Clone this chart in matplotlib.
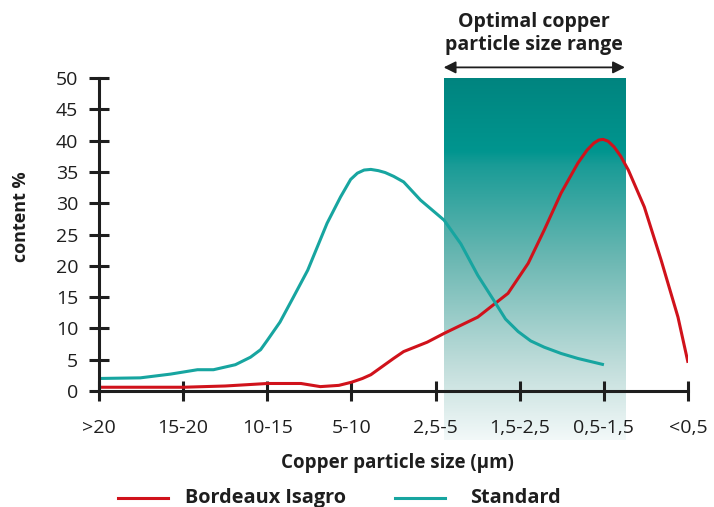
import numpy as np
import matplotlib.pyplot as plt
from matplotlib.colors import LinearSegmentedColormap

# categories on the x axis
categories = ['>20', '15-20', '10-15', '5-10', '2,5-5', '1,5-2,5', '0,5-1,5', '<0,5']
y_ticks = [0, 5, 10, 15, 20, 25, 30, 35, 40, 45, 50]

# Standard curve (x in category units, y in %)
std_x = [0.0, 0.49, 0.85, 1.17, 1.36, 1.62, 1.80, 1.92, 2.0, 2.15, 2.31, 2.48, 2.71,
         2.87, 2.99, 3.07, 3.15, 3.23, 3.32, 3.40, 3.50, 3.62, 3.82, 4.10, 4.30,
         4.50, 4.69, 4.83, 4.98, 5.13, 5.29, 5.49, 5.69, 6.0]
std_y = [2.0, 2.1, 2.7, 3.4, 3.4, 4.2, 5.4, 6.6, 8.1, 11.0, 15.0, 19.3, 26.8,
         31.0, 33.8, 34.8, 35.3, 35.4, 35.2, 34.9, 34.3, 33.4, 30.5, 27.3, 23.5,
         18.5, 14.5, 11.5, 9.5, 8.0, 7.0, 6.0, 5.2, 4.2]

# Bordeaux Isagro curve
bdx_x = [0.0, 1.0, 1.5, 2.0, 2.4, 2.63, 2.85, 3.0, 3.13, 3.23, 3.5, 3.62, 3.9,
         4.1, 4.5, 4.86, 5.1, 5.29, 5.49, 5.69, 5.80, 5.88, 5.94, 5.99, 6.05,
         6.12, 6.20, 6.29, 6.48, 6.68, 6.88, 7.0]
bdx_y = [0.6, 0.6, 0.8, 1.2, 1.2, 0.7, 0.9, 1.4, 2.0, 2.6, 5.2, 6.3, 7.8,
         9.2, 11.8, 15.6, 20.4, 25.7, 31.6, 36.4, 38.5, 39.6, 40.1, 40.2, 39.9,
         39.0, 37.5, 35.3, 29.4, 20.9, 11.8, 4.5]

# optimal range (category units)
opt_left, opt_right = 4.095, 6.25

red = '#d0121b'
teal = '#17a5a0'
dark = '#1e1e1e'
bold_font = 'Open Sans'
tick_font = 'Open Sans'

fig = plt.figure(figsize=(7.14, 5.07), dpi=100)
ax = fig.add_axes([0.1387, 0.2288, 0.825, 0.6173])

# gradient box for the optimal range
cmap = LinearSegmentedColormap.from_list('opt', [
    (0.0, (0.00, 0.52, 0.50)),
    (0.20, (0.00, 0.585, 0.56)),
    (0.24, (0.10, 0.61, 0.59)),
    (0.50, (0.42, 0.72, 0.70)),
    (0.80, (0.76, 0.87, 0.86)),
    (1.0, (0.95, 0.975, 0.975)),
])
grad = np.linspace(0, 1, 256).reshape(-1, 1)
ax.imshow(grad, cmap=cmap, aspect='auto', extent=[opt_left, opt_right, -7.8, 50],
          origin='upper', zorder=0, clip_on=False)

ax.plot(bdx_x, bdx_y, color=red, lw=2.2, solid_capstyle='butt',
        solid_joinstyle='round', zorder=3)
ax.plot(std_x, std_y, color=teal, lw=2.2, solid_capstyle='butt',
        solid_joinstyle='round', zorder=3)

ax.set_xlim(0, 7)
ax.set_ylim(0, 50)

for s in ['top', 'right']:
    ax.spines[s].set_visible(False)
for s in ['left', 'bottom']:
    ax.spines[s].set_color(dark)
    ax.spines[s].set_linewidth(2.2)
    ax.spines[s].set_zorder(4)

ax.set_xticks(range(len(categories)))
ax.set_xticklabels(categories)
ax.set_yticks(y_ticks)
ax.tick_params(direction='inout', length=14, width=2.2, color=dark,
               labelsize=14, labelcolor=dark)
ax.tick_params(axis='x', pad=13)
ax.tick_params(axis='y', pad=8)
for lab in ax.get_xticklabels() + ax.get_yticklabels():
    lab.set_family(tick_font)

ax.set_xlabel('Copper particle size (\u00b5m)', fontsize=13.5, fontweight='bold',
              family=bold_font, color=dark)
ax.xaxis.set_label_coords((397 - 99) / 589, (391 - 463) / 313)
ax.set_ylabel('content %', fontsize=13, fontweight='bold', family=bold_font,
              color=dark)
ax.yaxis.set_label_coords((21 - 99) / 589, (391 - 217) / 313)
ax.xaxis.label.set_va('center')
ax.yaxis.label.set_va('center')

# annotation for the optimal range
ax.annotate('', xy=(opt_left, 51.7), xytext=(opt_right, 51.7),
            arrowprops=dict(arrowstyle='<|-|>', color=dark, lw=1.3,
                            mutation_scale=18, shrinkA=0, shrinkB=0),
            annotation_clip=False)
ax.text((opt_left + opt_right) / 2, 53.6, 'Optimal copper\nparticle size range',
        ha='center', va='bottom', fontsize=14, fontweight='bold',
        family=bold_font, color=dark, linespacing=1.2)

# legend
ly = 9 / 507
fig.lines.append(plt.Line2D([118 / 714, 168 / 714], [ly, ly],
                            color=red, lw=2.2, transform=fig.transFigure))
fig.text(185 / 714, ly, 'Bordeaux Isagro', fontsize=14.3, fontweight='bold',
         family=bold_font, color=dark, va='center')
fig.lines.append(plt.Line2D([395 / 714, 445 / 714], [ly, ly],
                            color=teal, lw=2.2, transform=fig.transFigure))
fig.text(470 / 714, ly, 'Standard', fontsize=14.3, fontweight='bold',
         family=bold_font, color=dark, va='center')

fig.savefig('out.png', dpi=100)
